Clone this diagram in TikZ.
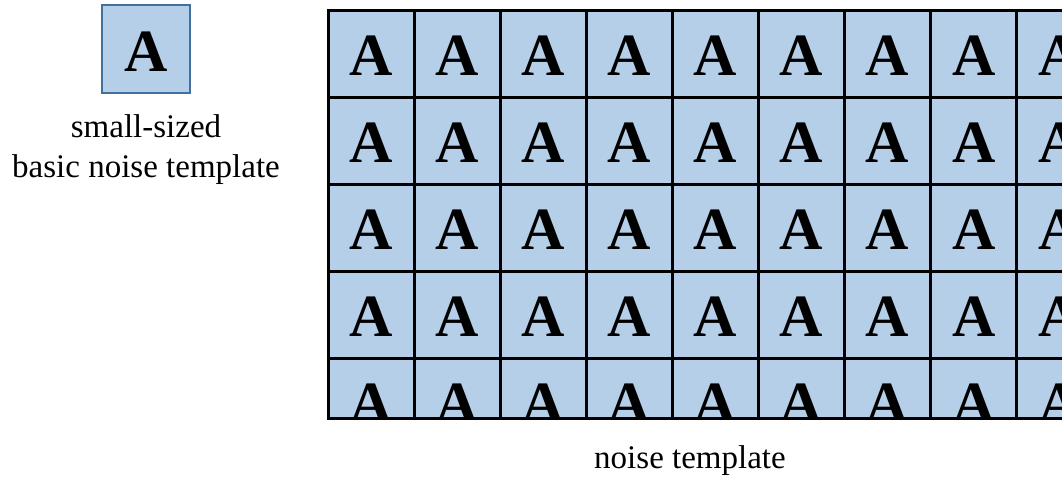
\documentclass[tikz,border=0pt]{standalone}
\usepackage{fontspec}
\setmainfont{Liberation Serif}
\definecolor{cellblue}{RGB}{182,207,232}
\definecolor{edgeblue}{RGB}{65,113,156}
\tikzset{
  cell/.style={minimum width=86.1pt, minimum height=87pt, inner sep=0pt, fill=cellblue},
  letter/.style={font=\fontsize{60}{60}\selectfont\bfseries, inner sep=0pt, anchor=base},
  caption/.style={font=\fontsize{33}{40}\selectfont, align=center, inner sep=0pt},
  gridline/.style={line width=3pt, black}
}
\begin{document}
\begin{tikzpicture}[x=1pt, y=-1pt]
\useasboundingbox (0,0) rectangle (1062,483);

% single template tile
\node[cell, minimum width=88pt, minimum height=88pt, draw=edgeblue, line width=1.2pt] (tile) at (146,49) {};
\node[letter] (tileA) at ([yshift=-22pt]tile.center) {A};
\node[caption, anchor=base] (tilecap) at (146,137) {small-sized};
\node[caption, anchor=base] (tilecap2) at (146,177) {basic noise template};

% tiled template, cut off at the right and at the bottom
\begin{scope}
  \clip (328,10) rectangle (1062,418);
  \fill[cellblue] (328,10) rectangle (1062,418);
  \foreach \r in {0,...,4} {
    \foreach \c in {0,...,8} {
      \node[cell, fill=none] (c-\r-\c) at ({328+43.05+86.1*\c},{10+43.5+87*\r}) {};
      \node[letter] (a-\r-\c) at ([yshift=-22pt]c-\r-\c.center) {A};
    }
  }
  \foreach \c in {1,...,8} \draw[gridline] ({328+86.1*\c},10) -- ({328+86.1*\c},418);
  \foreach \r in {1,...,4} \draw[gridline] (328,{10+87*\r}) -- (1062,{10+87*\r});
\end{scope}
\draw[gridline, line cap=rect] (1070,10) -- (328,10) -- (328,418) -- (1070,418);

\node[caption, anchor=base] (gridcap) at (690,468) {noise template};
\end{tikzpicture}
\end{document}
